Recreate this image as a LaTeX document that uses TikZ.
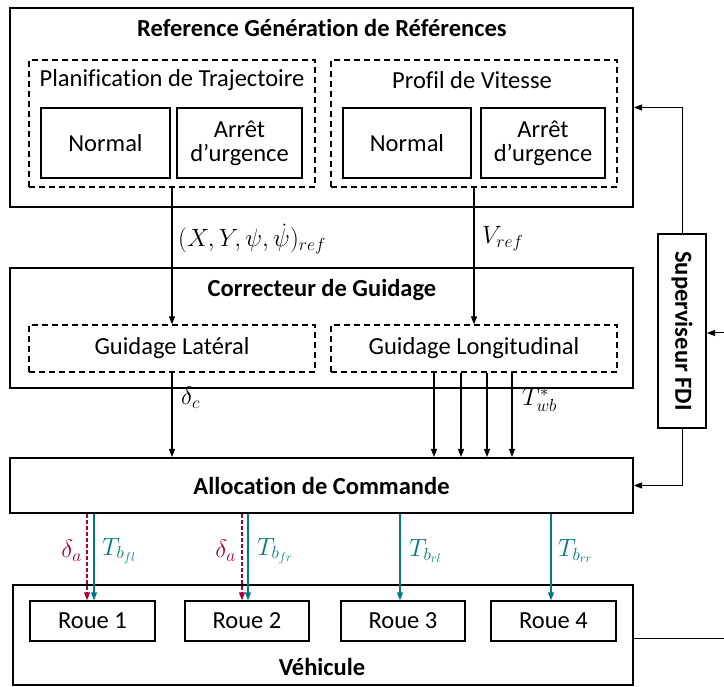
\documentclass[tikz,border=0pt]{standalone}
\usepackage{fix-cm}
\usepackage{fontspec}
\setmainfont{Carlito}[Ligatures=NoCommon]
\usetikzlibrary{arrows.meta,calc}
\definecolor{crim}{RGB}{168,0,58}
\definecolor{tealc}{RGB}{0,122,122}
\begin{document}
\begin{tikzpicture}[x=1pt,y=-1pt,
  txt/.style={font=\fontsize{24.5}{27}\selectfont},
  ttl/.style={font=\fontsize{24.5}{27}\selectfont\bfseries},
  mlab/.style={font=\fontsize{25}{28}\selectfont, inner sep=0pt},
  bigbox/.style={draw, line width=2pt, inner sep=0pt},
  dbox/.style={draw, line width=1.3pt, dashed, dash pattern=on 6pt off 4pt, inner sep=0pt},
  sbox/.style={draw, line width=1.3pt, inner sep=0pt, align=center, txt},
  arr/.style={line width=1.2pt, -{Triangle[length=8pt,width=6pt]}},
  tarr/.style={line width=1.4pt, tealc, -{Triangle[length=8pt,width=6pt]}},
  carr/.style={line width=1.4pt, crim, dashed, dash pattern=on 4pt off 2pt, -{Triangle[length=8pt,width=6pt]}},
]
\useasboundingbox (0,0) rectangle (724,687);
% top block
\node[bigbox, minimum width=623pt, minimum height=199pt] (top) at (321.5,107.5) {};
\node[ttl] (toptitle) at (322,28) {Reference Génération de Références};
\node[dbox, minimum width=286pt, minimum height=127pt] (dashL) at (172,123.5) {};
\node[dbox, minimum width=286pt, minimum height=127pt] (dashR) at (474,123.5) {};
\node[txt] (planif) at (172,80) {Planification de Trajectoire};
\node[txt] (profil) at (472,80) {Profil de Vitesse};
\node[sbox, minimum width=129pt, minimum height=70pt] (n1) at (105.5,143) {Normal};
\node[sbox, minimum width=125pt, minimum height=70pt] (a1) at (239.5,143) {Arrêt\\[-3pt]d’urgence};
\node[sbox, minimum width=128pt, minimum height=70pt] (n2) at (407,143) {Normal};
\node[sbox, minimum width=124pt, minimum height=70pt] (a2) at (543,143) {Arrêt\\[-3pt]d’urgence};
% middle block
\node[bigbox, minimum width=623pt, minimum height=120pt] (mid) at (321.5,328) {};
\node[ttl] (midtitle) at (322,290) {Correcteur de Guidage};
\node[dbox, minimum width=286pt, minimum height=47pt, txt] (gl) at (172,348.5) {Guidage Latéral};
\node[dbox, minimum width=286pt, minimum height=47pt, txt] (glo) at (474,348.5) {Guidage Longitudinal};
% allocation
\node[bigbox, minimum width=623pt, minimum height=55pt, ttl] (alloc) at (321.5,485.5) {Allocation de Commande};
% supervisor
\node[bigbox, minimum width=48pt, minimum height=194pt] (sup) at (682,331) {};
\node[ttl, rotate=-90] (suptxt) at (sup) {Superviseur FDI};
% vehicle
\node[bigbox, minimum width=620pt, minimum height=100pt] (veh) at (323,635) {};
\node[ttl] (vehtitle) at (322,667) {Véhicule};
\node[sbox, minimum width=125pt, minimum height=40pt] (r1) at (92.5,621) {Roue 1};
\node[sbox, minimum width=124pt, minimum height=40pt] (r2) at (247,621) {Roue 2};
\node[sbox, minimum width=124pt, minimum height=40pt] (r3) at (403,621) {Roue 3};
\node[sbox, minimum width=125pt, minimum height=40pt] (r4) at (553.5,621) {Roue 4};
% top -> middle
\draw[arr] (dashL.south) -- (gl.north);
\draw[arr] (dashR.south) -- (glo.north);
\node[mlab, anchor=west] (lref) at (178,239) {$(X,Y,\psi,\dot{\psi})_{ref}$};
\node[mlab, anchor=west] (lvref) at (482,239) {$V_{ref}$};
% middle -> alloc
\draw[arr] (gl.south) -- (gl.south |- alloc.north);
\node[mlab, anchor=west] (ldc) at (181,398) {$\delta_c$};
\foreach \dx in {-40,-13,13,38} {
  \draw[arr] ($(glo.south)+(\dx,0)$) -- ($(glo.south |- alloc.north)+(\dx,0)$);
}
\node[mlab, anchor=west] (ltwb) at (522,400) {$T_{wb}^{*}$};
% alloc -> wheels
\draw[carr] ($(alloc.south -| r1.north)+(-5.5,0)$) -- ($(r1.north)+(-5.5,0)$);
\draw[tarr] ($(alloc.south -| r1.north)+(1.5,0)$) -- ($(r1.north)+(1.5,0)$);
\draw[carr] ($(alloc.south -| r2.north)+(-5,0)$) -- ($(r2.north)+(-5,0)$);
\draw[tarr] ($(alloc.south -| r2.north)+(1,0)$) -- ($(r2.north)+(1,0)$);
\draw[tarr] ($(alloc.south -| r3.north)+(-3,0)$) -- ($(r3.north)+(-3,0)$);
\draw[tarr] ($(alloc.south -| r4.north)+(-2.5,0)$) -- ($(r4.north)+(-2.5,0)$);
\node[mlab, crim, anchor=east] (lda1) at (82,551) {$\delta_a$};
\node[mlab, tealc, anchor=west] (lt1) at (102,551) {$T_{b_{fl}}$};
\node[mlab, crim, anchor=east] (lda2) at (236,551) {$\delta_a$};
\node[mlab, tealc, anchor=west] (lt2) at (257,551) {$T_{b_{fr}}$};
\node[mlab, tealc, anchor=west] (lt3) at (409,551) {$T_{b_{rl}}$};
\node[mlab, tealc, anchor=west] (lt4) at (558,551) {$T_{b_{rr}}$};
% supervisor links
\draw[arr, line width=1pt] (sup.north) |- (top.east);
\draw[arr, line width=1pt] (sup.south) |- (alloc.east);
\coordinate (fin) at (724,333);
\draw[arr, line width=1pt] (fin) -- (sup.east |- fin);
\coordinate (vout) at (724,638);
\draw[line width=1pt] (veh.east |- vout) -- (vout);
\end{tikzpicture}
\end{document}
